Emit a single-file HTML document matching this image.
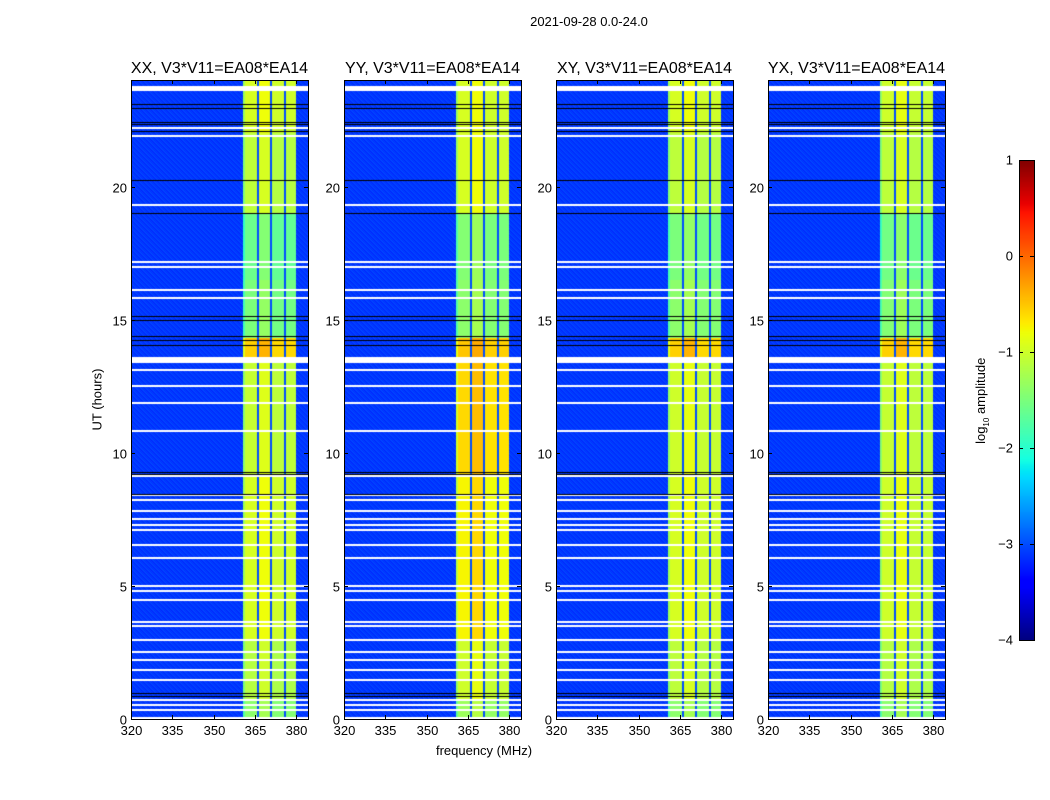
<!DOCTYPE html>
<html><head><meta charset="utf-8">
<style>
body{margin:0;background:#fff;width:1050px;height:800px;position:relative;overflow:hidden;font-family:"Liberation Sans",sans-serif;}
.t{position:absolute;white-space:nowrap;color:#000;}
canvas{position:absolute;}
</style></head><body>
<div class="t" style="left:489px;top:14px;width:200px;text-align:center;font-size:13px;">2021-09-28 0.0-24.0</div>
<div class="t" style="left:384px;top:743px;width:200px;text-align:center;font-size:13px;">frequency (MHz)</div>
<div class="t" style="left:47px;top:392px;width:100px;text-align:center;font-size:13px;transform:rotate(-90deg);">UT (hours)</div>
<div class="t" style="left:922px;top:392px;width:120px;text-align:center;font-size:13px;transform:rotate(-90deg);">log<sub style="font-size:8px">10</sub> amplitude</div>
<div id="root"></div>
<svg id="ax" width="1050" height="800" style="position:absolute;left:0;top:0"></svg>
<script>
// ---- data ----
const panelTitles = ["XX, V3*V11=EA08*EA14","YY, V3*V11=EA08*EA14","XY, V3*V11=EA08*EA14","YX, V3*V11=EA08*EA14"];
const xTicks = [320,335,350,365,380];
const yTicks = [0,5,10,15,20];
const cbTicks = [1,0,-1,-2,-3,-4];
const backgroundLevel = -3.1;
const darkLevel = -3.0;
const freqSegStart = [360.7,361.5,365.6,366.3,370.4,371.1,375.5,376.2];
const freqSegEnd   = [361.5,365.6,366.3,370.4,371.1,375.5,376.2,380.0];
const freqSegOff   = [-0.4,-0.05,null,0.1,null,-0.1,null,-0.1];
const timeSegFrom = [0,0.7,3,9.2,13.5,14.3,16.5,19,22];
const timeSegTo   = [0.7,3,9.2,13.5,14.3,16.5,19,22,24];
const bandXX = [-1.35,-1.1,-0.9,-1.0,-0.5,-1.45,-1.55,-1.05,-0.9];
const bandYY = [-1.25,-0.95,-0.7,-0.55,-0.45,-1.35,-1.4,-0.9,-0.9];
const bandXY = [-1.35,-1.05,-0.9,-0.95,-0.5,-1.35,-1.45,-1.05,-0.9];
const bandYX = [-1.35,-1.1,-0.95,-1.0,-0.5,-1.4,-1.5,-1.05,-0.95];
const bandLevels = [bandXX,bandYY,bandXY,bandYX];
const whiteRows = [23.68,23.62,23.74,22.21,21.91,19.32,17.15,16.96,16.1,15.83,13.4,13.47,13.54,13.1,12.5,11.86,10.81,9.12,8.41,8.22,7.8,7.5,7.28,7.09,6.53,6.04,4.99,4.8,4.47,3.64,3.49,2.96,2.51,2.21,1.84,1.46,0.71,0.53,0.34,0.05];
const blackRows = [23.08,22.96,22.44,22.33,22.1,20.23,19.02,15.12,14.97,14.37,14.22,14.03,9.27,9.19,8.44,0.98,0.86];

// ---- layout ----
const panelLeft=[131,344,556,768], pw=177, topY=80, ph=639;
const fmin=320,fmax=384.25,hmax=24;
function xs(f,i){return panelLeft[i]+(f-fmin)/(fmax-fmin)*pw;}
function ys(h){return topY+ph-(h/hmax)*ph;}
function interp(pts,x){for(let k=1;k<pts.length;k++){if(x<=pts[k][0]){const a=pts[k-1],b=pts[k];return a[1]+(b[1]-a[1])*(x-a[0])/(b[0]-a[0]);}}return pts[pts.length-1][1];}
function jet(v){const x=Math.max(0,Math.min(1,(v+4)/5));
 return [interp([[0,0],[0.35,0],[0.66,1],[0.89,1],[1,0.5]],x),interp([[0,0],[0.125,0],[0.375,1],[0.64,1],[0.91,0],[1,0]],x),interp([[0,0.5],[0.11,1],[0.34,1],[0.65,0],[1,0]],x)].map(c=>Math.round(c*255));}
function freqOffset(f){for(let k=0;k<freqSegStart.length;k++){if(f>=freqSegStart[k]&&f<freqSegEnd[k])return freqSegOff[k];}return undefined;}
function band(i,h){const L=bandLevels[i];for(let k=0;k<timeSegFrom.length;k++){if(h>=timeSegFrom[k]&&h<timeSegTo[k])return L[k];}return L[L.length-1];}

const root=document.getElementById('root');
const svg=document.getElementById('ax');
const NS="http://www.w3.org/2000/svg";
function mk(tag,attrs){const e=document.createElementNS(NS,tag);for(const k in attrs)e.setAttribute(k,attrs[k]);svg.appendChild(e);return e;}

for(let i=0;i<4;i++){
 const c=document.createElement('canvas');
 
 
 c.width=pw;c.height=ph;c.style.left=panelLeft[i]+'px';c.style.top=topY+'px';
 root.appendChild(c);
 const ctx=c.getContext('2d');const img=ctx.createImageData(pw,ph);
 const colOff=[];for(let x=0;x<pw;x++){colOff.push(freqOffset(fmin+(x+0.5)/pw*(fmax-fmin)));}
 for(let y=0;y<ph;y++){const h=(ph-y-0.5)/ph*hmax;const b=band(i,h);
  for(let x=0;x<pw;x++){const o=colOff[x];let v;
   if(o===undefined)v=backgroundLevel+((x*7+y*13)%5-2)*0.06;else if(o===null)v=darkLevel;else v=b+o;
   const col=jet(v);const p=(y*pw+x)*4;img.data[p]=col[0];img.data[p+1]=col[1];img.data[p+2]=col[2];img.data[p+3]=255;}}
 ctx.putImageData(img,0,0);
 whiteRows.forEach(h=>{ctx.fillStyle='#fff';ctx.fillRect(0,Math.round(ph-h/hmax*ph)-1,pw,2);});
 blackRows.forEach(h=>{ctx.fillStyle='#000';ctx.fillRect(0,Math.round(ph-h/hmax*ph),pw,1);});

 const fr=mk('rect',{x:panelLeft[i]+0.5,y:topY+0.5,width:pw,height:ph,fill:'none',stroke:'#000','stroke-width':1});
 
 const tt=mk('text',{x:panelLeft[i]+pw/2,y:topY-7,'text-anchor':'middle','font-size':16,'font-family':'Liberation Sans'});
 tt.textContent=panelTitles[i];
 xTicks.forEach(f=>{const x=Math.round(xs(f,i))+0.5;
  const l=mk('line',{x1:x,x2:x,y1:topY+ph,y2:topY+ph-4,stroke:'#000'});
  const l2=mk('line',{x1:x,x2:x,y1:topY,y2:topY+4,stroke:'#000'});
  const t=mk('text',{x:x,y:topY+ph+16,'text-anchor':'middle','font-size':13,'font-family':'Liberation Sans'});t.textContent=f;
  });
 yTicks.forEach(h=>{const y=Math.round(ys(h))+0.5;
  const l=mk('line',{x1:panelLeft[i],x2:panelLeft[i]+4,y1:y,y2:y,stroke:'#000'});
  const l2=mk('line',{x1:panelLeft[i]+pw,x2:panelLeft[i]+pw-4,y1:y,y2:y,stroke:'#000'});
  const t=mk('text',{x:panelLeft[i]-4,y:y+5,'text-anchor':'end','font-size':13,'font-family':'Liberation Sans'});t.textContent=h;
  });
}
// colorbar
const cbX=1019,cbW=15,cbT=160,cbH=480;
const cb=document.createElement('canvas');cb.width=cbW;cb.height=cbH;cb.style.left=cbX+'px';cb.style.top=cbT+'px';
root.appendChild(cb);
const cctx=cb.getContext('2d');
for(let y=0;y<cbH;y++){const v=1-5*(y+0.5)/cbH;const c=jet(v);cctx.fillStyle='rgb('+c.join(',')+')';cctx.fillRect(0,y,cbW,1);}
const cf=mk('rect',{x:cbX+0.5,y:cbT+0.5,width:cbW,height:cbH,fill:'none',stroke:'#000'});
cbTicks.forEach(v=>{const y=Math.round(cbT+(1-v)/5*cbH)+0.5;
 const l=mk('line',{x1:cbX,x2:cbX+4,y1:y,y2:y,stroke:'#000'});
 const l2=mk('line',{x1:cbX+cbW,x2:cbX+cbW-4,y1:y,y2:y,stroke:'#000'});
 const t=mk('text',{x:cbX-6,y:y+4,'text-anchor':'end','font-size':13,'font-family':'Liberation Sans'});t.textContent=v<0?'\u2212'+(-v):v;
 });
</script>
</body></html>
